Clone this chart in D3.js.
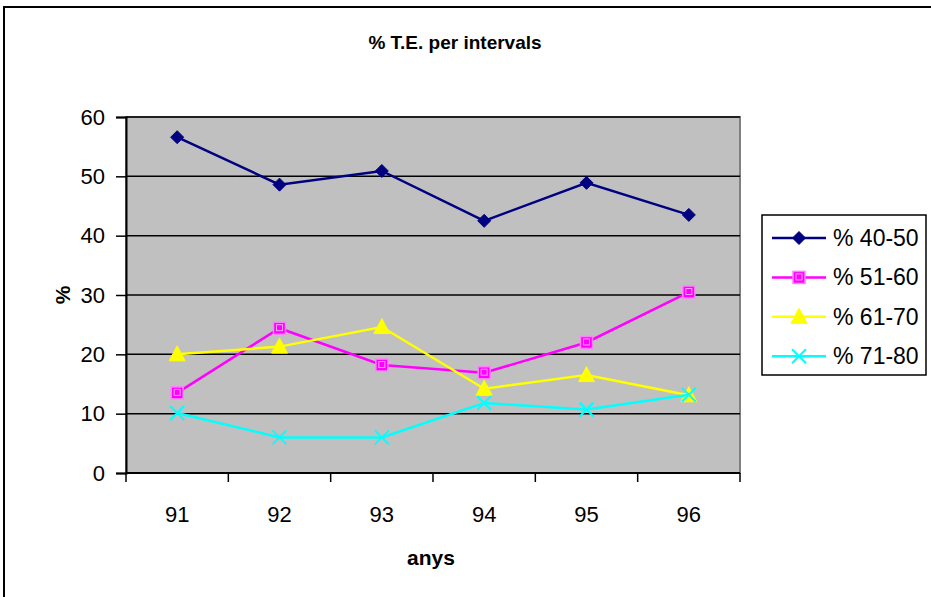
<!DOCTYPE html>
<html>
<head>
<meta charset="utf-8">
<script src="https://cdn.jsdelivr.net/npm/d3@7"></script>
<style>
  html, body { margin: 0; padding: 0; background: #fff; }
  svg { display: block; font-family: Arial, "Liberation Sans", sans-serif; }
</style>
</head>
<body>
<svg id="chart" width="931" height="597"></svg>
<script>
// Years on the category axis
const years = ["91", "92", "93", "94", "95", "96"];
// Percentage per age interval
const pct4050 = [56.6, 48.6, 50.9, 42.5, 48.9, 43.5];
const pct5160 = [13.5, 24.4, 18.2, 16.9, 22.0, 30.5];
const pct6170 = [20.0, 21.3, 24.6, 14.2, 16.5, 13.1];
const pct7180 = [10.1, 6.0, 6.0, 11.8, 10.7, 13.2];
const seriesNames = ["% 40-50", "% 51-60", "% 61-70", "% 71-80"];
const yTicks = [0, 10, 20, 30, 40, 50, 60];

const series = [
  { name: seriesNames[0], values: pct4050, color: "#000080", marker: "diamond" },
  { name: seriesNames[1], values: pct5160, color: "#FF00FF", marker: "square" },
  { name: seriesNames[2], values: pct6170, color: "#FFFF00", marker: "triangle" },
  { name: seriesNames[3], values: pct7180, color: "#00FFFF", marker: "cross" }
];

const svg = d3.select("#chart");
const plot = { left: 126, right: 740, top: 117, bottom: 473 };

// Outer chart frame (only left and top edges fall inside the window)
svg.append("rect")
  .attr("x", 4).attr("y", 7).attr("width", 940).attr("height", 600)
  .attr("fill", "#fff").attr("stroke", "#000").attr("stroke-width", 2);

const x = d3.scaleBand().domain(years).range([plot.left, plot.right]);
const y = d3.scaleLinear().domain([0, 60]).range([plot.bottom, plot.top]);

// Plot area
svg.append("rect")
  .attr("x", plot.left).attr("y", plot.top)
  .attr("width", plot.right - plot.left).attr("height", plot.bottom - plot.top)
  .attr("fill", "#C0C0C0").attr("stroke", "#808080").attr("stroke-width", 2);

// Horizontal gridlines
svg.append("g").selectAll("line")
  .data(yTicks.filter(t => t > 0))
  .join("line")
  .attr("x1", plot.left).attr("x2", plot.right)
  .attr("y1", d => y(d)).attr("y2", d => y(d))
  .attr("stroke", "#000").attr("stroke-width", 1.5);

// Y axis
const yAxis = svg.append("g")
  .attr("transform", `translate(${plot.left},0)`)
  .call(d3.axisLeft(y).tickValues(yTicks).tickSize(10).tickPadding(11));
yAxis.select(".domain").attr("stroke", "#000").attr("stroke-width", 2);
yAxis.selectAll(".tick line").attr("stroke", "#000").attr("stroke-width", 1.5);
yAxis.selectAll("text").attr("font-size", 22).attr("fill", "#000")
  .attr("font-family", "Arial, 'Liberation Sans', sans-serif");

// X axis: ticks sit on category boundaries
const xAxis = svg.append("g")
  .attr("transform", `translate(0,${plot.bottom})`);
xAxis.append("line")
  .attr("x1", plot.left).attr("x2", plot.right)
  .attr("stroke", "#000").attr("stroke-width", 2);
const bounds = years.map(d => x(d)).concat([x(years[years.length - 1]) + x.bandwidth()]);
xAxis.selectAll("line.tick").data(bounds).join("line")
  .attr("class", "tick")
  .attr("x1", d => d).attr("x2", d => d)
  .attr("y1", 0).attr("y2", 9)
  .attr("stroke", "#000").attr("stroke-width", 1.5);
xAxis.selectAll("text").data(years).join("text")
  .attr("x", d => x(d) + x.bandwidth() / 2)
  .attr("y", 49)
  .attr("text-anchor", "middle")
  .attr("font-size", 22)
  .text(d => d);

// Titles
svg.append("text")
  .attr("x", 455).attr("y", 49)
  .attr("text-anchor", "middle")
  .attr("font-size", 19).attr("font-weight", "bold")
  .text("% T.E. per intervals");
svg.append("text")
  .attr("x", 431).attr("y", 565)
  .attr("text-anchor", "middle")
  .attr("font-size", 21).attr("font-weight", "bold")
  .text("anys");
svg.append("text")
  .attr("transform", "translate(70,295) rotate(-90)")
  .attr("text-anchor", "middle")
  .attr("font-size", 21).attr("font-weight", "bold")
  .text("%");

// Marker drawing
function drawMarker(g, type, color) {
  if (type === "diamond") {
    g.append("path").attr("d", "M0,-6.5L6.5,0L0,6.5L-6.5,0Z")
      .attr("fill", color).attr("stroke", color).attr("stroke-width", 1);
  } else if (type === "square") {
    g.append("rect").attr("x", -6).attr("y", -6).attr("width", 12).attr("height", 12)
      .attr("fill", color).attr("stroke", "#FF80FF").attr("stroke-width", 1.5);
    g.append("rect").attr("x", -3).attr("y", -3.5).attr("width", 6).attr("height", 6)
      .attr("fill", "none").attr("stroke", "#FFA0FF").attr("stroke-width", 1);
  } else if (type === "triangle") {
    g.append("path").attr("d", "M0,-8.5L8,6.5L-8,6.5Z")
      .attr("fill", color).attr("stroke", color).attr("stroke-width", 1);
  } else if (type === "cross") {
    g.append("path").attr("d", "M-7,-7L7,7M-7,7L7,-7")
      .attr("fill", "none").attr("stroke", color).attr("stroke-width", 2);
  }
}

const line = d3.line()
  .x((d, i) => x(years[i]) + x.bandwidth() / 2)
  .y(d => y(d));

series.forEach(s => {
  svg.append("path")
    .datum(s.values)
    .attr("d", line)
    .attr("fill", "none")
    .attr("stroke", s.color)
    .attr("stroke-width", 2.5);
  s.values.forEach((v, i) => {
    const g = svg.append("g")
      .attr("transform", `translate(${x(years[i]) + x.bandwidth() / 2},${y(v)})`);
    drawMarker(g, s.marker, s.color);
  });
});

// Legend
const legend = svg.append("g");
legend.append("rect")
  .attr("x", 762).attr("y", 215).attr("width", 164).attr("height", 160)
  .attr("fill", "#fff").attr("stroke", "#000").attr("stroke-width", 1.5);
series.forEach((s, i) => {
  const cy = 238 + i * 39.4;
  legend.append("line")
    .attr("x1", 772).attr("x2", 826).attr("y1", cy).attr("y2", cy)
    .attr("stroke", s.color).attr("stroke-width", 2.5);
  const g = legend.append("g").attr("transform", `translate(799,${cy})`);
  drawMarker(g, s.marker, s.color);
  legend.append("text")
    .attr("x", 833).attr("y", cy + 8)
    .attr("font-size", 23)
    .text(s.name);
});
</script>
</body>
</html>
